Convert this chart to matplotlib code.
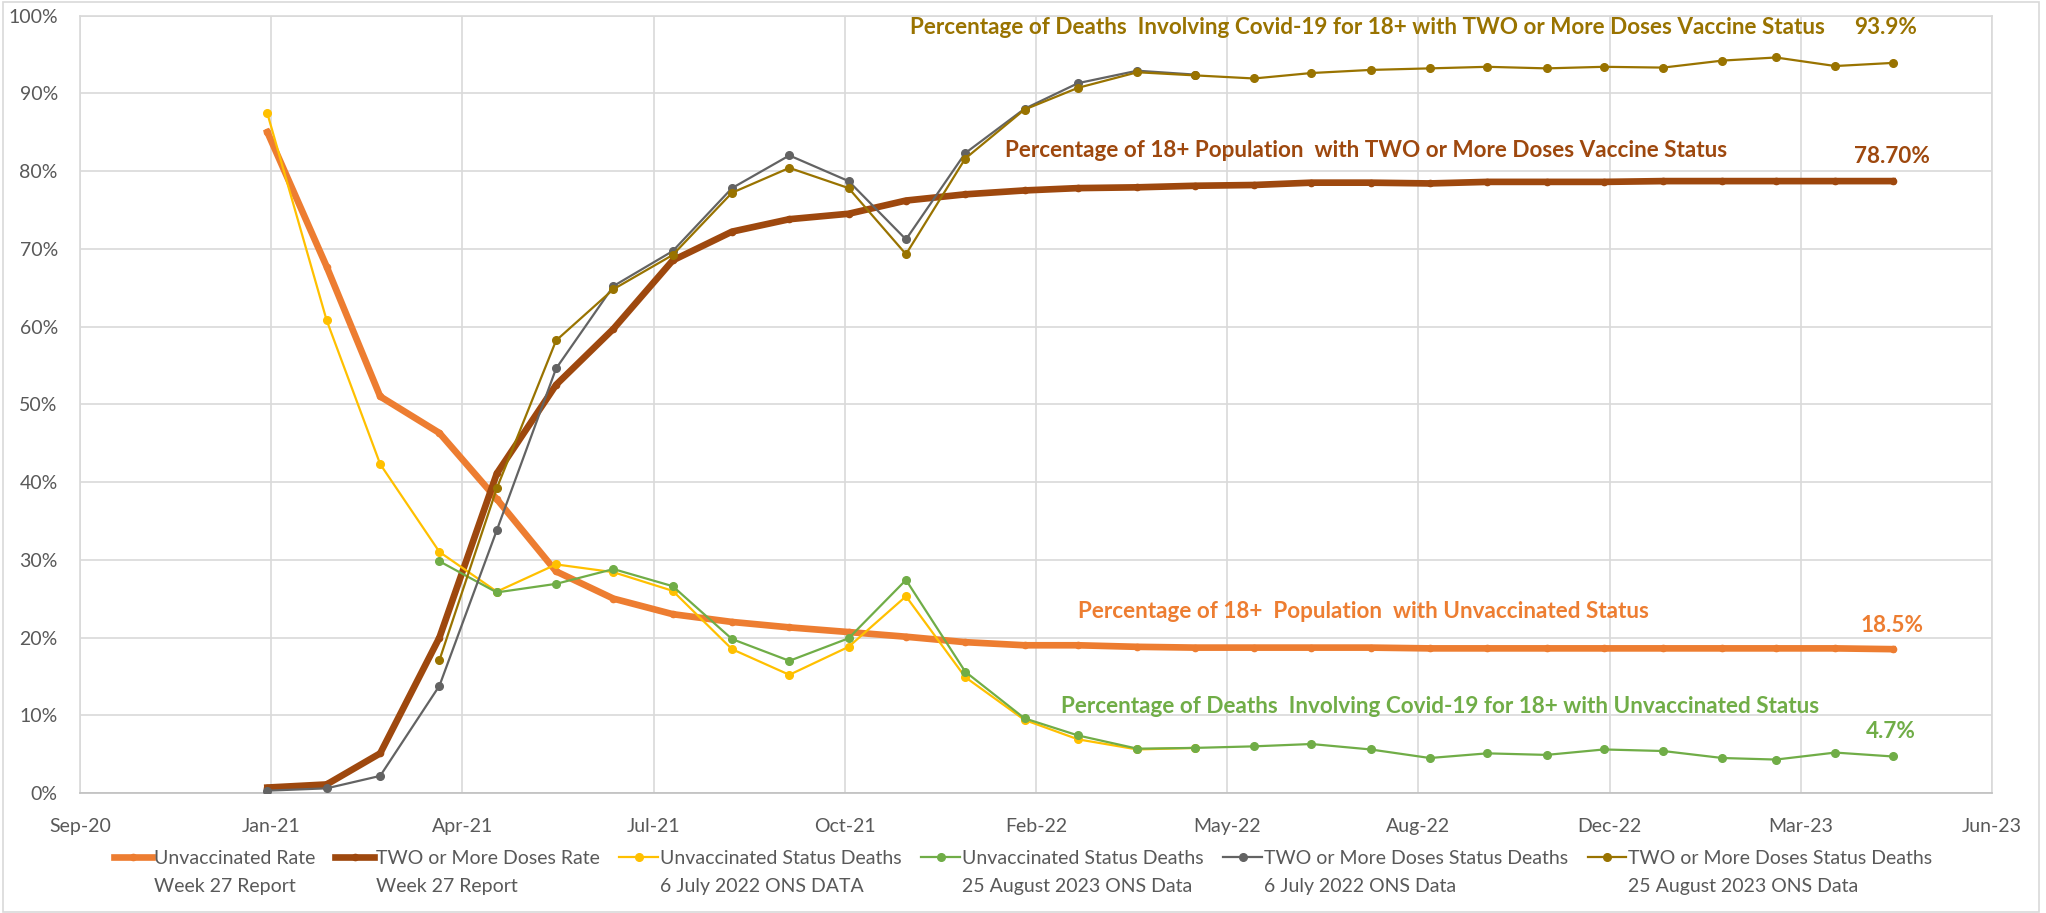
#libraries
import numpy as np
import pandas as pd
import matplotlib
matplotlib.use('Agg')
import matplotlib.pyplot as plt
import matplotlib.dates as mdates
from matplotlib.patches import Rectangle
from matplotlib.ticker import FuncFormatter

plt.rcParams['font.family'] = ['Lato', 'DejaVu Sans']

#data (monthly, first of month)
months_all = pd.date_range('2021-01-01', '2023-05-01', freq='MS')
months_jul22 = pd.date_range('2021-01-01', '2022-05-01', freq='MS')
months_aug23 = pd.date_range('2021-04-01', '2023-05-01', freq='MS')

unvax_rate = [85.0, 67.7, 51.0, 46.3, 37.8, 28.5, 25.0, 23.0, 22.0, 21.3, 20.7, 20.1,
              19.4, 19.0, 19.0, 18.8, 18.7, 18.7, 18.7, 18.7, 18.6, 18.6, 18.6, 18.6,
              18.6, 18.6, 18.6, 18.6, 18.5]
two_dose_rate = [0.7, 1.1, 5.1, 20.0, 41.1, 52.5, 59.7, 68.5, 72.2, 73.8, 74.5, 76.2,
                 77.0, 77.5, 77.8, 77.9, 78.1, 78.2, 78.5, 78.5, 78.4, 78.6, 78.6, 78.6,
                 78.7, 78.7, 78.7, 78.7, 78.7]
unvax_deaths_jul22 = [87.4, 60.8, 42.3, 31.0, 25.9, 29.4, 28.4, 26.0, 18.5, 15.2, 18.8, 25.3,
                      14.9, 9.4, 6.9, 5.6, 5.8]
unvax_deaths_aug23 = [29.8, 25.8, 26.9, 28.8, 26.6, 19.8, 17.0, 19.9, 27.4,
                      15.6, 9.6, 7.4, 5.7, 5.8, 6.0, 6.3, 5.6, 4.5, 5.1, 4.9, 5.6,
                      5.4, 4.5, 4.3, 5.2, 4.7]
two_dose_deaths_jul22 = [0.3, 0.6, 2.2, 13.8, 33.8, 54.6, 65.2, 69.7, 77.8, 82.0, 78.7, 71.2,
                         82.3, 88.0, 91.3, 92.9, 92.4]
two_dose_deaths_aug23 = [17.1, 39.2, 58.2, 64.8, 69.2, 77.2, 80.4, 77.8, 69.3,
                         81.6, 87.9, 90.7, 92.7, 92.3, 91.9, 92.6, 93.0, 93.2, 93.4, 93.2, 93.4,
                         93.3, 94.2, 94.6, 93.5, 93.9]

legend_line1 = ['Unvaccinated Rate', 'TWO or More Doses Rate', 'Unvaccinated Status Deaths',
                'Unvaccinated Status Deaths', 'TWO or More Doses Status Deaths',
                'TWO or More Doses Status Deaths']
legend_line2 = ['Week 27 Report', 'Week 27 Report', '6 July 2022 ONS DATA',
                '25 August 2023 ONS Data', '6 July 2022 ONS Data', '25 August 2023 ONS Data']

#colours
ORANGE = '#ED7D31'
BROWN = '#9E480E'
YELLOW = '#FFC000'
GREEN = '#70AD47'
GREY = '#636363'
OLIVE = '#997300'
TXT = '#595959'
GRID = '#D9D9D9'

#x axis: 100 day major unit starting late Sep 2020
x_start = pd.Timestamp('2020-09-25')
x_ticks = [x_start + pd.Timedelta(days=100 * i) for i in range(11)]

fig = plt.figure(figsize=(20.46, 9.13), dpi=100)
ax = fig.add_axes([80 / 2046, 1 - 793 / 913, (1992 - 80) / 2046, (793 - 15.5) / 913])

#series
ax.plot(months_all, unvax_rate, color=ORANGE, lw=4.8, marker='o', ms=4.5,
        label=legend_line1[0], zorder=3)
ax.plot(months_all, two_dose_rate, color=BROWN, lw=4.8, marker='o', ms=4.5,
        label=legend_line1[1], zorder=3)
ax.plot(months_jul22, unvax_deaths_jul22, color=YELLOW, lw=1.6, marker='o', ms=5.5,
        label=legend_line1[2], zorder=4)
ax.plot(months_aug23, unvax_deaths_aug23, color=GREEN, lw=1.6, marker='o', ms=5.5,
        label=legend_line1[3], zorder=4)
ax.plot(months_jul22, two_dose_deaths_jul22, color=GREY, lw=1.6, marker='o', ms=5.5,
        label=legend_line1[4], zorder=4)
ax.plot(months_aug23, two_dose_deaths_aug23, color=OLIVE, lw=1.6, marker='o', ms=5.5,
        label=legend_line1[5], zorder=4)

#axes
ax.set_xlim(x_ticks[0], x_ticks[-1])
ax.set_ylim(0, 100)
ax.set_xticks(x_ticks)
ax.xaxis.set_major_formatter(mdates.DateFormatter('%b-%y'))
ax.set_yticks(np.arange(0, 101, 10))
ax.yaxis.set_major_formatter(FuncFormatter(lambda v, p: '%d%%' % v))
ax.tick_params(length=0, labelsize=14, labelcolor=TXT)
ax.tick_params(axis='y', pad=16)
ax.tick_params(axis='x', pad=18)
ax.grid(True, color=GRID, lw=1.2)
ax.set_axisbelow(True)
for s in ax.spines.values():
    s.set_color(GRID)
    s.set_linewidth(1.2)
ax.spines['bottom'].set_color('#BFBFBF')

#annotations
ann_kw = dict(fontsize=16.2, fontweight='bold', va='center', ha='left')
ax.text(pd.Timestamp('2021-12-03'), 98.4,
        'Percentage of Deaths  Involving Covid-19 for 18+ with TWO or More Doses Vaccine Status',
        color=OLIVE, **ann_kw)
ax.text(pd.Timestamp('2023-04-11'), 98.4, '93.9%', color=OLIVE, **ann_kw)
ax.text(pd.Timestamp('2022-01-22'), 82.7,
        'Percentage of 18+ Population  with TWO or More Doses Vaccine Status',
        color=BROWN, **ann_kw)
ax.text(pd.Timestamp('2023-04-11'), 81.9, '78.70%', color=BROWN, **ann_kw)
ax.text(pd.Timestamp('2022-03-01'), 23.3,
        'Percentage of 18+  Population  with Unvaccinated Status',
        color=ORANGE, **ann_kw)
ax.text(pd.Timestamp('2023-04-14'), 21.6, '18.5%', color=ORANGE, **ann_kw)
ax.text(pd.Timestamp('2022-02-20'), 11.1,
        'Percentage of Deaths  Involving Covid-19 for 18+ with Unvaccinated Status',
        color=GREEN, **ann_kw)
ax.text(pd.Timestamp('2023-04-17'), 7.9, '4.7%', color=GREEN, **ann_kw)

#legend (first line from the legend, second line placed below each label)
leg = fig.legend(loc='center', bbox_to_anchor=(0.5, 1 - 858 / 913), ncol=6,
                 frameon=False, fontsize=14, handlelength=2.0, handletextpad=0.1,
                 columnspacing=1.0, labelcolor=TXT)
fig.canvas.draw()
r = fig.canvas.get_renderer()
W, H = fig.bbox.width, fig.bbox.height
for txt, line2 in zip(leg.get_texts(), legend_line2):
    bb = txt.get_window_extent(r)
    yc = (bb.y0 + bb.y1) / 2 - 28
    fig.text(bb.x0 / W, yc / H, line2, fontsize=14, color=TXT, ha='left', va='center')

#chart border
fig.patches.append(Rectangle((2.5 / W, 1.5 / H), (2039 - 2.5) / W, (911.5 - 1.5) / H,
                             transform=fig.transFigure, fill=False, ec=GRID, lw=1.2))

fig.savefig('out.png', dpi=100)
